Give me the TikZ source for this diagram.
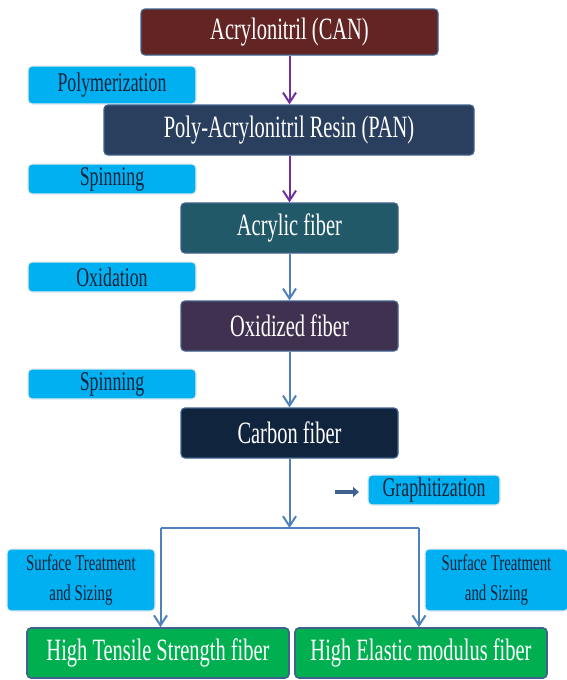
\documentclass[tikz,border=0pt]{standalone}
\usepackage{fontspec}
\setmainfont{Liberation Serif}[FakeStretch=0.66]
\usetikzlibrary{arrows.meta}
\definecolor{canred}{HTML}{632523}
\definecolor{panblue}{HTML}{2A3F5E}
\definecolor{acrteal}{HTML}{215968}
\definecolor{oxipurple}{HTML}{403151}
\definecolor{carbnavy}{HTML}{10243E}
\definecolor{procyan}{HTML}{00B0F0}
\definecolor{prodark}{HTML}{14233B}
\definecolor{fibgreen}{HTML}{00B050}
\definecolor{edgeblue}{HTML}{41628F}
\definecolor{flowpurple}{HTML}{7030A0}
\definecolor{flowblue}{HTML}{4F81BD}
\definecolor{glow}{HTML}{E6EBEF}
\tikzset{
  mainbox/.style={rounded corners=4pt, draw=edgeblue, line width=1.2pt, text=white,
    inner sep=0pt, font=\fontsize{31}{34}\selectfont},
  procbox/.style={rounded corners=4pt, fill=procyan, draw=glow, line width=1.2pt, text=prodark,
    inner sep=0pt, font=\fontsize{27}{30}\selectfont},
  twoline/.style={align=center, font=\fontsize{22.5}{30}\selectfont},
  fibbox/.style={rounded corners=4pt, fill=fibgreen, draw=edgeblue, line width=1.6pt, text=white,
    inner sep=0pt, font=\fontsize{31}{34}\selectfont},
  purpflow/.style={draw=flowpurple, line width=2pt, -{Straight Barb[length=10pt,width=13pt]}},
  blueflow/.style={draw=flowblue, line width=2pt, -{Straight Barb[length=10pt,width=13pt]}},
  blueline/.style={draw=flowblue, line width=2pt},
  thickarrow/.style={draw=edgeblue, line width=4pt, -{Triangle[length=6pt,width=10pt]}}
}
\begin{document}
\begin{tikzpicture}[x=1pt,y=-1pt]
\useasboundingbox (0,0) rectangle (567,680);
\node[mainbox, fill=canred, minimum width=297pt, minimum height=46pt] (can) at (289.5,32) {Acrylonitril (CAN)};
\node[procbox, minimum width=168pt, minimum height=38pt] (poly) at (112,85) {Polymerization};
\node[mainbox, fill=panblue, minimum width=370pt, minimum height=50pt] (pan) at (289,130) {Poly-Acrylonitril Resin (PAN)};
\node[procbox, minimum width=168pt, minimum height=30pt] (spinA) at (112,179) {Spinning};
\node[mainbox, fill=acrteal, minimum width=217pt, minimum height=50pt] (acr) at (289.5,228) {Acrylic fiber};
\node[procbox, minimum width=168pt, minimum height=30pt] (oxid) at (112,277) {Oxidation};
\node[mainbox, fill=oxipurple, minimum width=217pt, minimum height=50pt] (oxf) at (289.5,326) {Oxidized fiber};
\node[procbox, minimum width=168pt, minimum height=30pt] (spinB) at (112,384) {Spinning};
\node[mainbox, fill=carbnavy, minimum width=217pt, minimum height=50pt] (carb) at (289.5,433) {Carbon fiber};
\node[procbox, minimum width=132pt, minimum height=30pt] (graph) at (434,490) {Graphitization};
\node[procbox, twoline, minimum width=148pt, minimum height=62pt] (stA) at (81,580) {Surface Treatment\\and Sizing};
\node[procbox, twoline, minimum width=143pt, minimum height=62pt] (stB) at (496.5,580) {Surface Treatment\\and Sizing};
\node[fibbox, minimum width=262pt, minimum height=50pt] (hts) at (158,653) {High Tensile Strength fiber};
\node[fibbox, minimum width=252pt, minimum height=50pt] (hem) at (421,653) {High Elastic modulus fiber};
\coordinate (j) at (289.5,528);
\coordinate (jl) at (160.5,528);
\coordinate (jr) at (419,528);
\coordinate (ga) at (335,492);
\coordinate (gb) at (359,492);
\draw[purpflow] (can.south) -- (pan.north -| can.south);
\draw[purpflow] (pan.south -| acr.north) -- (acr.north);
\draw[blueflow] (acr.south) -- (oxf.north);
\draw[blueflow] (oxf.south) -- (carb.north);
\draw[blueflow] (carb.south) -- (j);
\draw[blueline] (jl) -- (jr);
\draw[blueflow] (jl) -- (hts.north -| jl);
\draw[blueflow] (jr) -- (hem.north -| jr);
\draw[thickarrow] (ga) -- (gb);
\end{tikzpicture}
\end{document}
